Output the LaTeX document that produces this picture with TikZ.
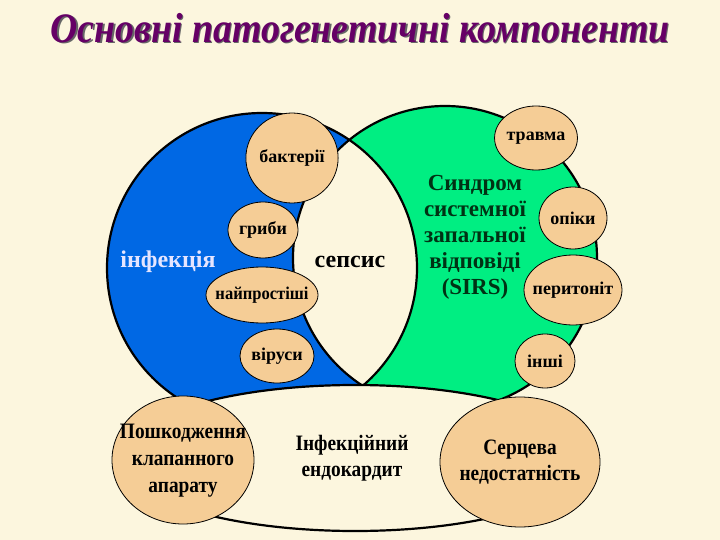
\documentclass[tikz,border=0pt]{standalone}
\usepackage{fontspec}
\setmainfont{Liberation Serif}
\definecolor{bg}{RGB}{252,246,222}
\definecolor{bl}{RGB}{0,104,228}
\definecolor{gr}{RGB}{0,238,130}
\definecolor{tan}{RGB}{245,205,150}
\definecolor{ttl}{RGB}{102,0,102}
\definecolor{dgr}{RGB}{0,50,20}
\tikzset{
  small/.style={ellipse,draw=black,line width=0.8pt,fill=tan,inner sep=0pt,font=\bfseries\fontsize{18}{20}\selectfont,align=center},
  big/.style={line width=2.2pt,draw=black},
}
\usetikzlibrary{shapes.geometric}
\begin{document}
\begin{tikzpicture}[x=1pt,y=-1pt]
\useasboundingbox (0,0) rectangle (720,540);
\fill[bg] (0,0) rectangle (720,540);
% title
\node[text=black!60,font=\bfseries\itshape\fontsize{42}{44}\selectfont,xscale=0.9] (tshadow) at (361.5,29.5) {Основні патогенетичні компоненти};
\node[text=ttl,font=\bfseries\itshape\fontsize{42}{44}\selectfont,xscale=0.9] (title) at (360,28) {Основні патогенетичні компоненти};
% circles
\fill[bl] (262,268) circle (155);
\fill[gr] (445,258) circle (152);
\begin{scope}
\clip (262,268) circle (155);
\fill[bg] (445,258) circle (152);
\end{scope}
\draw[big] (262,268) circle (155);
\draw[big] (445,258) circle (152);
% bottom ellipse
\filldraw[big,fill=bg] (355,458) ellipse (235 and 73);
% texts
\node[text=white!90!blue,font=\bfseries\fontsize{24}{26}\selectfont] (inf) at (168,262) {інфекція};
\node[font=\bfseries\fontsize{24}{26}\selectfont] (seps) at (350,262) {сепсис};
\node[text=dgr,font=\bfseries\fontsize{23}{26}\selectfont,align=center] (sirs) at (475,237) {Синдром\\системної\\запальної\\відповіді\\(SIRS)};
\node[font=\bfseries\fontsize{22}{26}\selectfont,align=center,xscale=0.88] (endo) at (352,458) {Інфекційний\\ендокардит};
% small circles
\node[small,minimum width=92pt,minimum height=90pt] (bakt) at (292,158) {бактерії};
\node[small,minimum width=70pt,minimum height=56pt] (hryb) at (263,230) {гриби};
\node[small,minimum width=112pt,minimum height=56pt] (naip) at (262,295) {\makebox[0pt]{\scalebox{0.92}[1]{найпростіші}}};
\node[small,minimum width=74pt,minimum height=54pt] (vir) at (277,356) {віруси};
\node[small,minimum width=80pt,minimum height=64pt] (trav) at (536,138) {травма};
\node[small,minimum width=68pt,minimum height=62pt] (opik) at (573,218) {опіки};
\node[small,minimum width=98pt,minimum height=70pt] (perit) at (573,290) {\makebox[0pt]{перитоніт}};
\node[small,minimum width=60pt,minimum height=54pt] (inshi) at (545,361) {інші};
\node[small,minimum width=142pt,minimum height=128pt,font=\bfseries\fontsize{22}{27}\selectfont] (posh) at (183,460) {\makebox[0pt]{\scalebox{0.88}[1]{\begin{tabular}{c}Пошкодження\\клапанного\\апарату\end{tabular}}}};
\node[small,minimum width=160pt,minimum height=130pt,font=\bfseries\fontsize{22}{26}\selectfont] (serts) at (520,462) {\makebox[0pt]{\raisebox{12pt}{\scalebox{0.88}[1]{\begin{tabular}{c}Серцева\\недостатність\end{tabular}}}}};
\end{tikzpicture}
\end{document}
